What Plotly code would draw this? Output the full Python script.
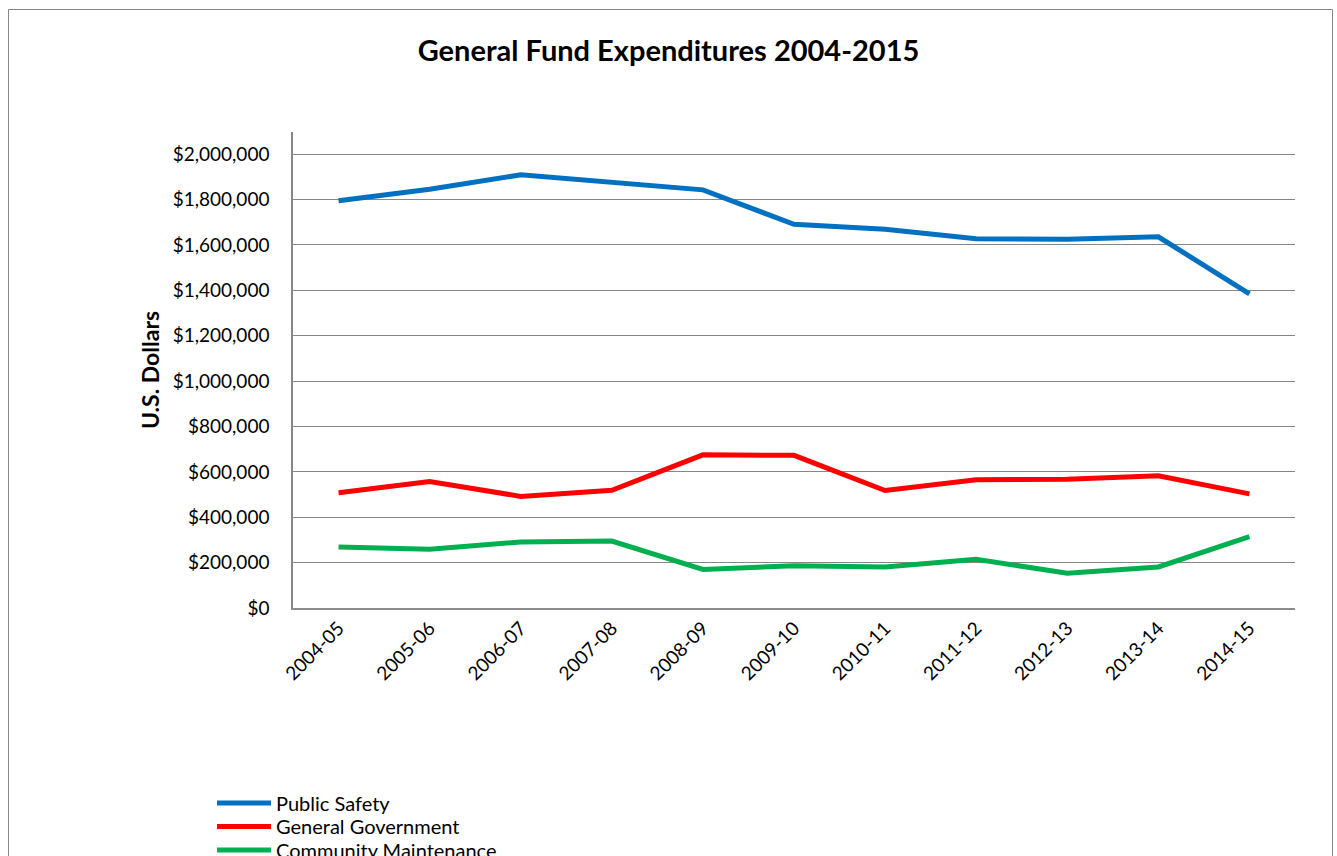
import plotly.graph_objects as go

categories = ["2004-05", "2005-06", "2006-07", "2007-08", "2008-09", "2009-10",
              "2010-11", "2011-12", "2012-13", "2013-14", "2014-15"]
public_safety = [1795000, 1846000, 1909000, 1877000, 1843000, 1691000,
                 1669000, 1627000, 1625000, 1636000, 1385000]
general_government = [508000, 557000, 492000, 519000, 675000, 673000,
                      518000, 565000, 568000, 583000, 503000]
community_maintenance = [269000, 259000, 291000, 295000, 170000, 186000,
                         181000, 215000, 153000, 181000, 315000]
y_ticks = [0, 200000, 400000, 600000, 800000, 1000000, 1200000,
           1400000, 1600000, 1800000, 2000000]

series = [
    ("Public Safety", public_safety, "#0070C0"),
    ("General Government", general_government, "#FF0000"),
    ("Community Maintenance", community_maintenance, "#00B050"),
]

FONT = "Lato"
W, H = 1337, 856
L, R, T, B = 293, 42, 132, 248
plot_w = W - L - R
plot_h = H - T - B


def px_x(px):
    return (px - L) / plot_w


def px_y(py):
    return (H - B - py) / plot_h


legend_names = ["legend", "legend2", "legend3"]
legend_rows = [803, 826.5, 850]

fig = go.Figure()
for (name, vals, color), lg in zip(series, legend_names):
    fig.add_trace(go.Scatter(x=categories, y=vals, name=name, mode="lines",
                             line=dict(color=color, width=5), legend=lg))

fig.add_shape(type="rect", xref="paper", yref="paper",
              x0=px_x(8.5), x1=px_x(1332.5), y0=px_y(880), y1=px_y(9.5),
              line=dict(color="#878787", width=1), fillcolor="rgba(0,0,0,0)",
              layer="below")

legend_common = dict(xanchor="left", yanchor="middle",
                     font=dict(family=FONT, size=20, color="black"),
                     bgcolor="rgba(0,0,0,0)", itemwidth=54)

fig.update_layout(
    width=W, height=H,
    margin=dict(l=L, r=R, t=T, b=B, pad=0, autoexpand=False),
    paper_bgcolor="white", plot_bgcolor="white",
    font=dict(family=FONT, size=19, color="black"),
    title=dict(text="<b>General Fund Expenditures 2004-2015</b>",
               x=0.5, xref="container", y=1 - 51 / H, yref="container",
               xanchor="center", yanchor="middle",
               font=dict(family=FONT, size=29, color="black")),
    showlegend=True,
    legend=dict(x=px_x(212), y=px_y(legend_rows[0]), **legend_common),
    legend2=dict(x=px_x(212), y=px_y(legend_rows[1]), **legend_common),
    legend3=dict(x=px_x(212), y=px_y(legend_rows[2]), **legend_common),
    xaxis=dict(type="category", range=[-0.5, 10.5], tickangle=-45,
               showgrid=False, showline=True, linecolor="#8c8c8c", linewidth=1.5,
               ticks="", tickfont=dict(family=FONT, size=19, color="black")),
    yaxis=dict(range=[0, 2098000], tickvals=y_ticks, tickformat="$,.0f",
               showgrid=True, gridcolor="#878787", gridwidth=1.4,
               showline=True, linecolor="#878787", linewidth=1.5,
               zeroline=False, ticks="", ticklabelstandoff=18,
               tickfont=dict(family=FONT, size=19, color="black"),
               title=dict(text="<b>U.S. Dollars</b>", standoff=7,
                          font=dict(family=FONT, size=23, color="black"))),
)

fig.write_html("out.html")
